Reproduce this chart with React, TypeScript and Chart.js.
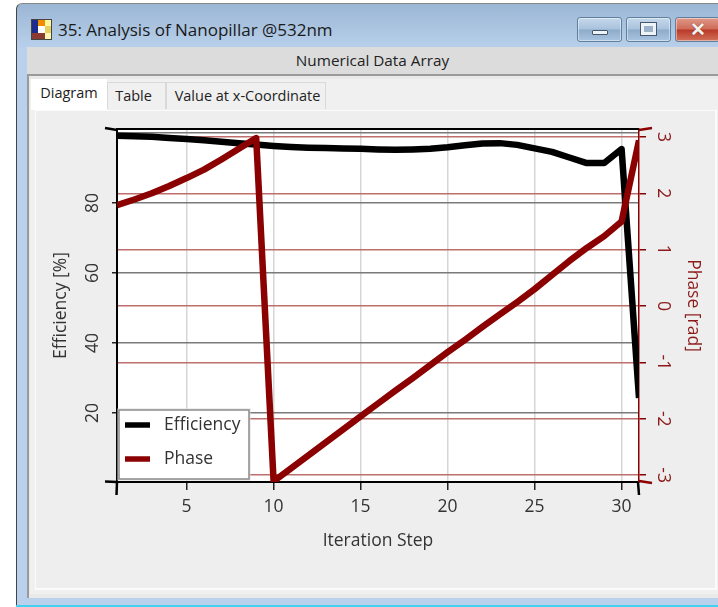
import React, { useEffect, useRef } from "react";
import { Chart, registerables } from "chart.js";

Chart.register(...registerables);

const iterationSteps = [1,2,3,4,5,6,7,8,9,10,11,12,13,14,15,16,17,18,19,20,21,22,23,24,25,26,27,28,29,30,31];
const efficiencyValues = [99.2,99.1,98.9,98.6,98.3,97.9,97.5,97.1,96.7,96.3,96.0,95.8,95.7,95.6,95.5,95.3,95.2,95.3,95.5,95.9,96.5,97.0,97.1,96.6,95.6,94.6,93.0,91.4,91.4,95.4,24.3];
const phaseValues = [1.79,1.89,2.0,2.13,2.27,2.42,2.6,2.79,2.98,-3.11,-2.88,-2.65,-2.42,-2.19,-1.96,-1.73,-1.5,-1.28,-1.05,-0.82,-0.6,-0.37,-0.15,0.07,0.3,0.55,0.8,1.03,1.24,1.5,2.94];
const xTicks = [5,10,15,20,25,30];
const efficiencyTicks = [20,40,60,80,100];
const phaseTicks = [-3,-2,-1,0,1,2,3];
const FONT = "'Open Sans', 'Noto Sans', sans-serif";
const BLACK = "#000000";
const RED = "#8b0000";
const AXIS_SIZE = 17.5;

const toTicks = (vals: number[]) => vals.map((value) => ({ value }));

const frame = {
  id: "frame",
  beforeDatasetsDraw(chart: any) {
    const { ctx, chartArea: a } = chart;
    ctx.save();
    ctx.strokeStyle = BLACK;
    ctx.lineWidth = 2;
    ctx.beginPath();
    ctx.moveTo(a.left, a.top);
    ctx.lineTo(a.right, a.top);
    ctx.stroke();
    ctx.restore();
  },
  beforeDraw(chart: any) {
    const { ctx, chartArea: a } = chart;
    ctx.save();
    ctx.fillStyle = "#ffffff";
    ctx.fillRect(a.left, a.top, a.right - a.left, a.bottom - a.top);
    ctx.restore();
  },
  afterDraw(chart: any) {
    const { ctx, chartArea: a } = chart;
    const seg = (c: string, w: number, x0: number, y0: number, x1: number, y1: number) => {
      ctx.strokeStyle = c;
      ctx.lineWidth = w;
      ctx.beginPath();
      ctx.moveTo(x0, y0);
      ctx.lineTo(x1, y1);
      ctx.stroke();
    };
    ctx.save();
    seg(BLACK, 2.5, a.left - 12, a.top - 1, a.left, a.top + 1);
    seg(BLACK, 2.5, a.left - 12, a.bottom - 0.5, a.left, a.bottom);
    seg(BLACK, 2.5, a.left, a.bottom, a.left - 0.5, a.bottom + 13);
    seg(BLACK, 2.5, a.right - 1, a.bottom, a.right, a.bottom + 13);
    seg(RED, 2.5, a.right, a.top + 1, a.right + 13, a.top - 1);
    seg(RED, 2.5, a.right, a.bottom - 1, a.right + 13, a.bottom + 1);

    // legend inside the plot
    const bx = a.left + 2, by = a.bottom - 72, bw = 130, bh = 69;
    ctx.fillStyle = "#ffffff";
    ctx.fillRect(bx, by, bw, bh);
    ctx.strokeStyle = "#dddddd";
    ctx.lineWidth = 1;
    ctx.strokeRect(bx - 1, by - 1, bw + 2, bh + 2);
    ctx.strokeStyle = "#8a8a8a";
    ctx.lineWidth = 1.5;
    ctx.strokeRect(bx, by, bw, bh);
    chart.data.datasets.forEach((d: any, i: number) => {
      const y = by + 15 + i * 34;
      seg(d.borderColor, 5.5, bx + 6, y, bx + 31, y);
      ctx.fillStyle = "#333333";
      ctx.font = `${AXIS_SIZE}px ${FONT}`;
      ctx.textBaseline = "middle";
      ctx.textAlign = "left";
      ctx.fillText(d.label, bx + 45, y);
    });
    ctx.restore();
  },
};

const box = (style: React.CSSProperties, children?: React.ReactNode, key?: string | number) => (
  <div key={key} style={{ position: "absolute", ...style }}>{children}</div>
);

const iconColors = ["#1c2a8c","#f08c00","#fff6a0","#1c2a8c","#ffffff","#e8d060","#8a3a30","#8a3a30","#fff6b0"];

export default function App() {
  const ref = useRef<HTMLCanvasElement>(null);
  useEffect(() => {
    const chart = new Chart(ref.current!, {
      type: "line",
      data: {
        datasets: [
          { label: "Efficiency", data: iterationSteps.map((x, i) => ({ x, y: efficiencyValues[i] })), borderColor: BLACK, borderWidth: 6.5, pointRadius: 0, yAxisID: "y", order: 2, borderJoinStyle: "round", tension: 0 },
          { label: "Phase", data: iterationSteps.map((x, i) => ({ x, y: phaseValues[i] })), borderColor: RED, borderWidth: 6.5, pointRadius: 0, yAxisID: "y1", order: 1, borderJoinStyle: "round", tension: 0 },
        ],
      },
      plugins: [frame],
      options: {
        animation: false,
        responsive: false,
        devicePixelRatio: 1,
        layout: { padding: { top: 129, left: 0, right: 0, bottom: 0 } },
        plugins: { legend: { display: false }, tooltip: { enabled: false } },
        scales: {
          x: {
            type: "linear", min: 1, max: 31,
            afterBuildTicks: (s: any) => { s.ticks = toTicks(xTicks); },
            afterFit: (s: any) => { s.height = 125; },
            grid: { color: "#d6d6d6", tickColor: "#222222", tickLength: 8, lineWidth: 1.5 },
            border: { color: BLACK, width: 2 },
            ticks: { color: "#333333", font: { family: FONT, size: AXIS_SIZE }, padding: 7, maxRotation: 0, autoSkip: false },
            title: { display: true, text: "Iteration Step", color: "#333333", font: { family: FONT, size: AXIS_SIZE }, padding: { top: 0, bottom: 55 } },
          },
          y: {
            type: "linear", position: "left", min: 0.29, max: 101.14,
            afterBuildTicks: (s: any) => { s.ticks = toTicks(efficiencyTicks); },
            afterFit: (s: any) => { s.width = 117; },
            grid: { color: "#7a7a7a", tickColor: (c: any) => (c.tick && c.tick.value === 100 ? "rgba(0,0,0,0)" : "#222222"), tickLength: 5, lineWidth: 1.5 },
            border: { color: BLACK, width: 2 },
            ticks: { color: "#333333", font: { family: FONT, size: AXIS_SIZE }, padding: 9, minRotation: 90, maxRotation: 90, crossAlign: "center", autoSkip: false, callback: (v: any) => (v === 100 ? "" : String(v)) },
            title: { display: true, text: "Efficiency [%]", color: "#333333", font: { family: FONT, size: AXIS_SIZE }, padding: { top: 51, bottom: 0 } },
          },
          y1: {
            type: "linear", position: "right", min: -3.123, max: 3.141,
            afterBuildTicks: (s: any) => { s.ticks = toTicks(phaseTicks); },
            afterFit: (s: any) => { s.width = 79; },
            grid: { color: "#bf6e6e", tickColor: RED, tickLength: 7, lineWidth: 1.5 },
            border: { color: RED, width: 1.5 },
            ticks: { color: "#8b1a1a", font: { family: FONT, size: AXIS_SIZE }, padding: 9, minRotation: -90, maxRotation: -90, crossAlign: "center", autoSkip: false },
            title: { display: true, text: "Phase [rad]", color: "#8b1a1a", font: { family: FONT, size: AXIS_SIZE }, padding: { top: 15, bottom: 0 } },
          },
        },
      },
    } as any);
    return () => chart.destroy();
  }, []);

  const tab = (label: string, left: number, width: number, active: boolean, pad: number) =>
    box({
      left, width, top: active ? 79 : 82, height: active ? 31 : 27,
      background: active ? "#ffffff" : "#f0f0f0",
      border: active ? "none" : "1px solid #d9d9d9", borderBottom: "none",
      boxSizing: "border-box", fontSize: 14.5, lineHeight: active ? "27px" : "26px", textAlign: "center", color: "#222",
      paddingRight: pad > 0 ? pad : 0, paddingLeft: pad < 0 ? -pad : 0,
    }, label, label);

  const winBtn = (left: number, width: number, bg: string, glyph: React.ReactNode, key: string) =>
    box({ left, width, top: 17, height: 25, boxSizing: "border-box", background: bg, border: "1px solid #5f7f9f", borderRadius: 3, boxShadow: "inset 0 0 0 1px rgba(255,255,255,.45)" }, glyph, key);

  return (
    <div style={{ position: "absolute", left: 0, top: 0, width: 718, height: 607, overflow: "hidden", background: "#ffffff", fontFamily: FONT, filter: "blur(0.4px)" }}>
      {box({ left: 16, top: 3, width: 702, height: 604, background: "linear-gradient(#9bb6d4 0, #b9d1ec 46px, #b9d1ec 100%)", borderLeft: "1.5px solid #444", borderTop: "1.5px solid #888", borderTopLeftRadius: 6, boxSizing: "border-box" })}
      {box({ left: 16, top: 605, width: 702, height: 2, background: "#45d0ee" })}
      {/* icon */}
      {box({ left: 31, top: 19, width: 21, height: 21, display: "grid", gridTemplateColumns: "repeat(3,1fr)", gridTemplateRows: "repeat(3,1fr)", border: "1px solid #444", boxSizing: "border-box" },
        iconColors.map((c, i) => <div key={i} style={{ background: c }} />))}
      {box({ left: 58, top: 18, fontSize: 17, lineHeight: "24px", color: "#1a1a1a", whiteSpace: "nowrap" }, "35: Analysis of Nanopillar @532nm")}
      {winBtn(577, 45, "linear-gradient(#c5d8ea 0, #a9c2dc 48%, #8eabc9 52%, #a8c4e0 100%)", box({ left: 14, top: 12, width: 16, height: 5, background: "#eef3f8", border: "1px solid #46586c", boxSizing: "border-box", borderRadius: 1 }), "min")}
      {winBtn(626, 45, "linear-gradient(#c5d8ea 0, #a9c2dc 48%, #8eabc9 52%, #a8c4e0 100%)", box({ left: 14, top: 5, width: 15, height: 12, background: "#9cb2c8", border: "3px solid #eef3f8", outline: "1px solid #46586c", boxSizing: "border-box" }), "max")}
      {winBtn(675, 45, "linear-gradient(#e0998a 0, #cf6a58 48%, #b83a28 52%, #d2705a 100%)", box({ left: 14, top: 1, fontSize: 19, fontWeight: 700, lineHeight: "21px", color: "#f4f0ee", textShadow: "0 0 1px #5a2018" }, "✕"), "close")}
      {/* content */}
      {box({ left: 27, top: 47, width: 691, height: 29, background: "#dcdcdc", borderBottom: "2px solid #9a9a9a", boxSizing: "border-box", fontSize: 15.3, lineHeight: "27px", textAlign: "center", color: "#222" }, "Numerical Data Array")}
      {box({ left: 27, top: 76, width: 691, height: 522, background: "#e9e9e9", borderLeft: "2px solid #9a9a9a", boxSizing: "border-box" })}
      {box({ left: 30, top: 79, width: 688, height: 515, background: "#f0f0f0" })}
      {box({ left: 35, top: 110, width: 682, height: 480, background: "#eeeeee", border: "1px solid #fbfbfb", borderRightWidth: 2, borderBottomWidth: 2, boxSizing: "border-box" })}
      {tab("Diagram", 31, 76, true, 0)}
      {tab("Table", 107, 59, false, 6)}
      {tab("Value at x-Coordinate", 166, 160, false, -3)}
      <canvas ref={ref} width={718} height={607} style={{ position: "absolute", left: 0, top: 0, display: "block" }} />
    </div>
  );
}
